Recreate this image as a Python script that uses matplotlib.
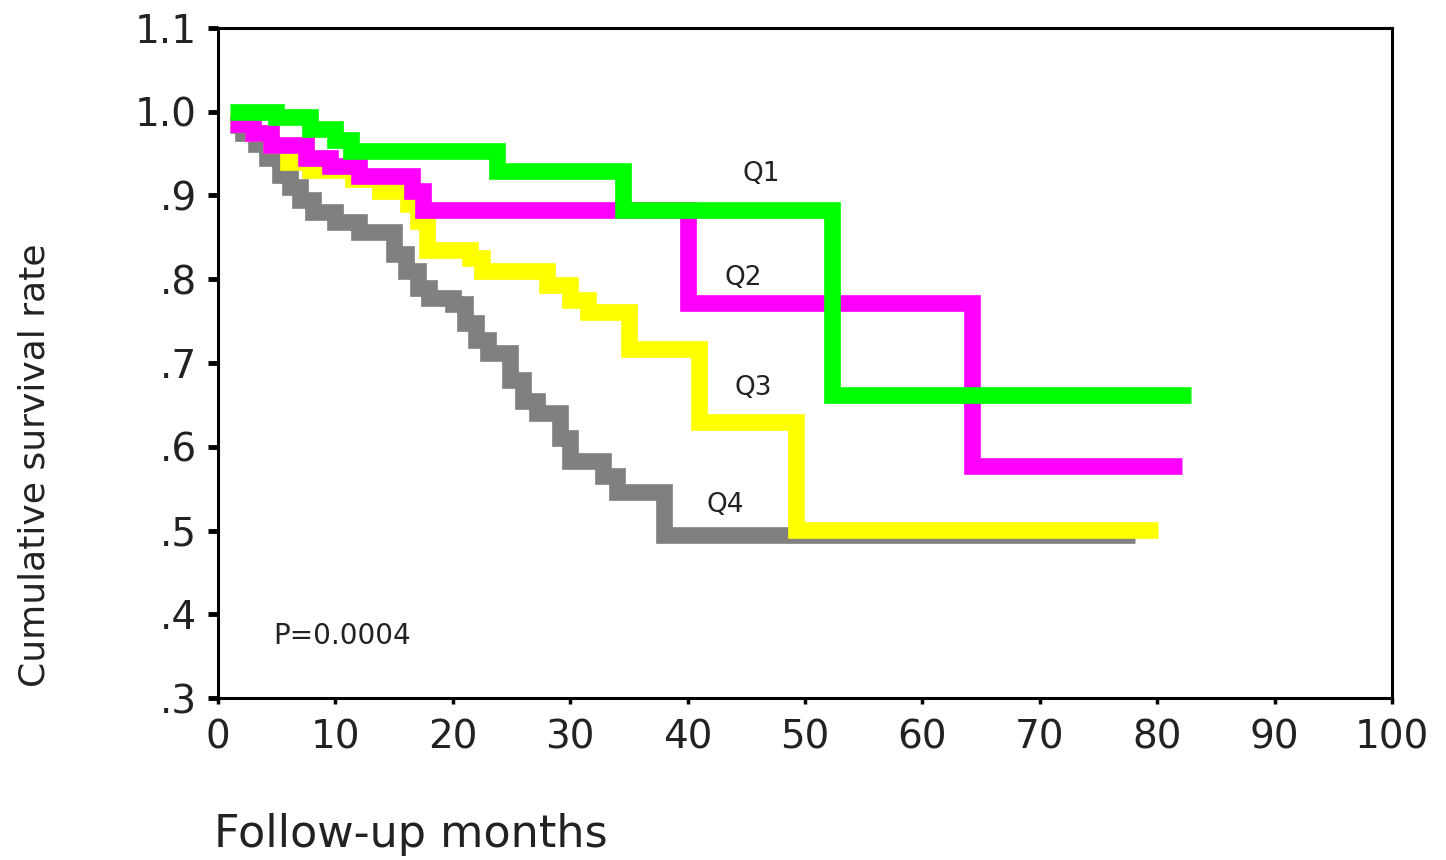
import matplotlib
matplotlib.use('Agg')
import matplotlib.pyplot as plt

# 生存曲线数据 (月份, 累积生存率)，按阶梯读取
q1_t = [1, 4.9, 7.8, 10, 11.3, 23.8, 34.5, 52.3, 82.9]
q1_s = [1.0, 0.994, 0.979, 0.966, 0.953, 0.929, 0.883, 0.662, 0.662]

q2_t = [1, 3, 4.5, 7.5, 9.5, 12, 16.5, 17.5, 40.0, 64.2, 82.1]
q2_s = [0.985, 0.975, 0.96, 0.945, 0.935, 0.923, 0.905, 0.883, 0.772, 0.577, 0.577]

q3_t = [1, 3, 4.5, 6, 7.8, 11.5, 13.8, 16.2, 17, 17.8, 21.5, 22.5, 28, 30, 31.5,
        35, 41, 49.2, 80.1]
q3_s = [0.99, 0.975, 0.96, 0.94, 0.93, 0.92, 0.905, 0.89, 0.87, 0.835, 0.825, 0.81,
        0.793, 0.775, 0.761, 0.717, 0.63, 0.501, 0.501]

q4_t = [1, 2.1, 3.2, 4.2, 5.3, 6.1, 7, 8.1, 10, 12, 15, 16, 17, 18, 20, 21, 22, 23,
        24.9, 26, 27.2, 29.1, 30, 32.8, 34, 38, 78.1]
q4_s = [0.984, 0.975, 0.962, 0.945, 0.925, 0.91, 0.895, 0.88, 0.868, 0.856, 0.83,
        0.81, 0.79, 0.778, 0.77, 0.748, 0.727, 0.712, 0.68, 0.655, 0.64, 0.61, 0.583,
        0.565, 0.546, 0.495, 0.495]

groups = ['Q1', 'Q2', 'Q3', 'Q4']
label_x = [46.3, 44.7, 45.6, 43.2]
label_y = [0.926, 0.802, 0.670, 0.531]

x_ticks = [0, 10, 20, 30, 40, 50, 60, 70, 80, 90, 100]
y_ticks = [0.3, 0.4, 0.5, 0.6, 0.7, 0.8, 0.9, 1.0, 1.1]
y_tick_labels = ['.3', '.4', '.5', '.6', '.7', '.8', '.9', '1.0', '1.1']

p_text = 'P=0.0004'

fig = plt.figure(figsize=(14.46, 8.6), dpi=100)
ax = fig.add_axes([218 / 1446, 1 - 698 / 860, 1174 / 1446, 670 / 860])

# 画阶梯线：灰 -> 黄 -> 洋红 -> 绿
lw = 12
ax.step(q4_t, q4_s, where='post', color='#808080', lw=lw, solid_joinstyle='miter',
        solid_capstyle='butt', zorder=2)
ax.step(q3_t, q3_s, where='post', color='#ffff00', lw=lw, solid_joinstyle='miter',
        solid_capstyle='butt', zorder=3)
ax.step(q2_t, q2_s, where='post', color='#ff00ff', lw=lw, solid_joinstyle='miter',
        solid_capstyle='butt', zorder=4)
ax.step(q1_t, q1_s, where='post', color='#00ff00', lw=lw, solid_joinstyle='miter',
        solid_capstyle='butt', zorder=5)

for name, lx, ly in zip(groups, label_x, label_y):
    ax.text(lx, ly, name, fontsize=19, ha='center', va='center', color='#222222',
            zorder=6)

ax.text(4.7, 0.374, p_text, fontsize=20, ha='left', va='center', color='#222222')

ax.set_xlim(0, 100)
ax.set_ylim(0.3, 1.1)
ax.set_xticks(x_ticks)
ax.set_yticks(y_ticks)
ax.set_yticklabels(y_tick_labels)

for sp in ax.spines.values():
    sp.set_linewidth(2.2)
    sp.set_color('black')

ax.tick_params(axis='y', direction='out', length=7, width=3.5, labelsize=28, pad=8,
               labelcolor='#222222')
ax.tick_params(axis='x', direction='out', length=4, width=2.5, labelsize=28, pad=11,
               labelcolor='#222222')

fig.text(35 / 1446, 1 - 465 / 860, 'Cumulative survival rate', rotation=90,
         fontsize=26, ha='center', va='center', color='#222222')
fig.text(214 / 1446, 1 - 835 / 860, 'Follow-up months', fontsize=32,
         ha='left', va='center', color='#222222')

fig.savefig('out.png', dpi=100, facecolor='white')
